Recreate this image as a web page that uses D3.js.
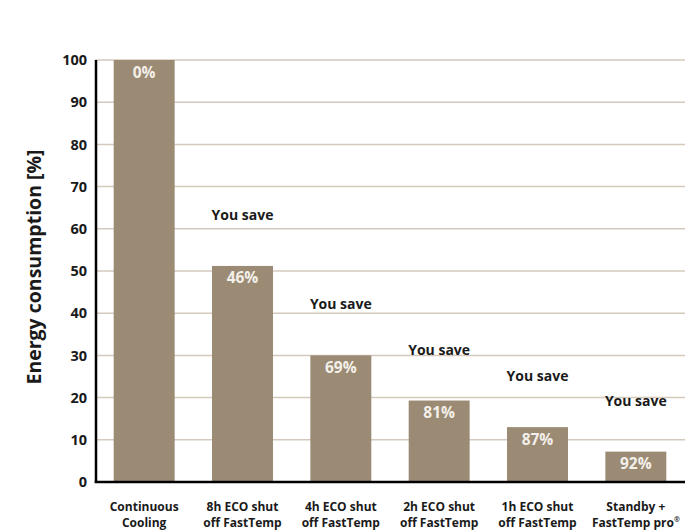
<!DOCTYPE html>
<html>
<head>
<meta charset="utf-8">
<script src="https://cdn.jsdelivr.net/npm/d3@7"></script>
<style>
  body { margin: 0; background: #fff; }
  svg text { font-family: "Open Sans", sans-serif; }
</style>
</head>
<body>
<div id="chart"></div>
<script>
//data
const categories = [
  ["Continuous", "Cooling"],
  ["8h ECO shut", "off FastTemp"],
  ["4h ECO shut", "off FastTemp"],
  ["2h ECO shut", "off FastTemp"],
  ["1h ECO shut", "off FastTemp"],
  ["Standby +", "FastTemp pro"]
];
const consumption = [100, 51.2, 30, 19.3, 13, 7.2];
const savings = ["0%", "46%", "69%", "81%", "87%", "92%"];
const showYouSave = [false, true, true, true, true, true];
const yTicks = [0, 10, 20, 30, 40, 50, 60, 70, 80, 90, 100];

const width = 685,
  height = 531,
  margin = { top: 60, bottom: 49, left: 95, right: 0 };

const barColor = "#9b8a74";

const svg = d3.select("#chart")
  .append("svg")
  .attr("width", width)
  .attr("height", height)

const xScale = d3.scaleBand()
  .domain(categories.map((d, i) => i))
  .range([margin.left, width - margin.right])
  .paddingInner(0.38)
  .paddingOuter(0.19)

const yScale = d3.scaleLinear()
  .domain([0, 100])
  .range([height - margin.bottom, margin.top])

// grid lines
svg.append("g")
  .selectAll("line")
  .data(yTicks.filter(d => d > 0))
  .join("line")
  .attr("x1", margin.left)
  .attr("x2", width)
  .attr("y1", d => yScale(d))
  .attr("y2", d => yScale(d))
  .attr("stroke", "#d5c9bd")
  .attr("stroke-width", 1.5)

// bars
svg.selectAll("rect.bar")
  .data(consumption)
  .join("rect")
  .attr("class", "bar")
  .attr("x", (d, i) => xScale(i))
  .attr("y", d => yScale(d))
  .attr("width", xScale.bandwidth())
  .attr("height", d => yScale(0) - yScale(d))
  .attr("fill", barColor)

// percent labels inside bars
svg.selectAll("text.pct")
  .data(savings)
  .join("text")
  .attr("class", "pct")
  .attr("x", (d, i) => xScale(i) + xScale.bandwidth() / 2)
  .attr("y", (d, i) => yScale(consumption[i]) + 17.5)
  .attr("text-anchor", "middle")
  .attr("fill", "#f3efe9")
  .attr("font-size", 15.5)
  .attr("font-weight", "bold")
  .text(d => d)

// "You save" labels above bars
svg.selectAll("text.save")
  .data(consumption.map((v, i) => ({ v, i })).filter(d => showYouSave[d.i]))
  .join("text")
  .attr("class", "save")
  .attr("x", d => xScale(d.i) + xScale.bandwidth() / 2)
  .attr("y", d => yScale(d.v) - 46)
  .attr("text-anchor", "middle")
  .attr("fill", "#1a1a1a")
  .attr("font-size", 14)
  .attr("font-weight", "bold")
  .attr("font-family", "Lato, sans-serif")
  .text("You save")

// y axis
const yAxis = d3.axisLeft(yScale)
  .tickValues(yTicks)
  .tickSize(0)
  .tickPadding(9)

const yAxisGroup = svg.append("g")
  .attr("transform", `translate(${margin.left + 1}, 0)`)
  .call(yAxis)

yAxisGroup.select(".domain")
  .attr("stroke", "#000")
  .attr("stroke-width", 2.5)
  .attr("d", `M0,${yScale(100)}V${yScale(0) + 1}`)

yAxisGroup.selectAll(".tick text")
  .attr("font-size", 14.5)
  .attr("font-weight", "bold")
  .attr("fill", "#1a1a1a")
  .attr("font-family", "'Open Sans', sans-serif")

svg.append("text")
  .attr("transform", `translate(${41}, ${267})rotate(-90)`)
  .attr("text-anchor", "middle")
  .attr("fill", "#1a1a1a")
  .attr("font-size", 19.5)
  .attr("font-weight", "bold")
  .text("Energy consumption [%]")

// x axis
svg.append("line")
  .attr("x1", margin.left - 0.25)
  .attr("x2", width)
  .attr("y1", yScale(0))
  .attr("y2", yScale(0))
  .attr("stroke", "#000")
  .attr("stroke-width", 2.5)

// category labels, one text per line
const labelLines = categories.flatMap((d, i) => d.map((line, j) => ({ line, i, j })))

svg.selectAll("text.xlab")
  .data(labelLines)
  .join("text")
  .attr("class", "xlab")
  .attr("x", d => xScale(d.i) + xScale.bandwidth() / 2)
  .attr("y", d => 510.5 + d.j * 16.5)
  .attr("text-anchor", "middle")
  .attr("fill", "#1a1a1a")
  .attr("font-size", 12)
  .attr("font-weight", "bold")
  .each(function(d) {
    const t = d3.select(this)
    t.append("tspan").text(d.line)
    if (d.i === categories.length - 1 && d.j === 1) {
      t.append("tspan")
        .attr("dy", -5)
        .attr("font-size", 7)
        .text("®")
    }
  })
</script>
</body>
</html>
